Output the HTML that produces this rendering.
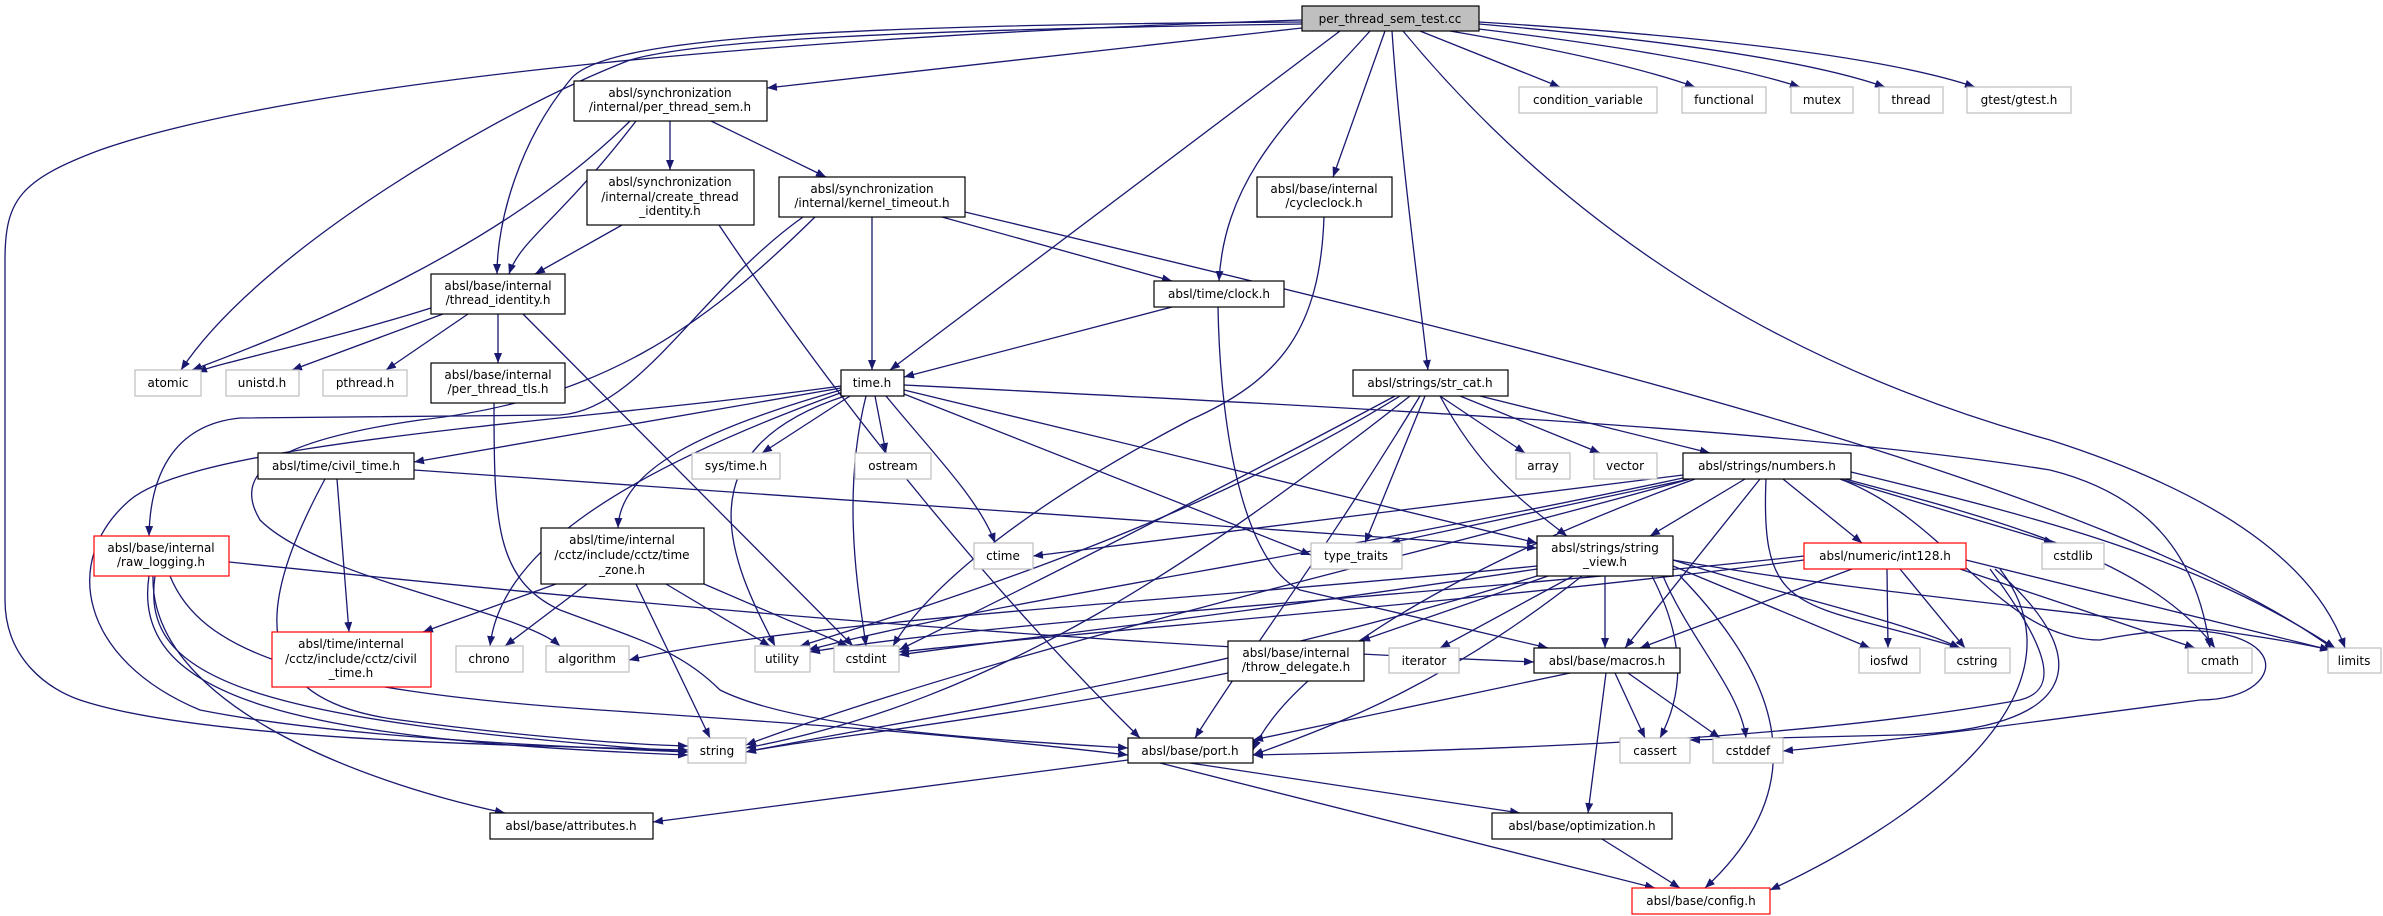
<!DOCTYPE html>
<html><head><meta charset="utf-8"><style>
html,body{margin:0;padding:0;background:#fff;width:2383px;height:916px;overflow:hidden}
svg{display:block}
text{font-family:"DejaVu Sans","Liberation Sans",sans-serif;font-size:12px;fill:#000;text-anchor:middle}
.e{fill:none;stroke:#191970;stroke-width:1.3;marker-end:url(#a)}
.n{fill:#fff;stroke:#000;stroke-width:1.2}
.g{fill:#fff;stroke:#bfbfbf;stroke-width:1.2}
.r{fill:#fff;stroke:#ff0000;stroke-width:1.2}
</style></head><body>
<svg width="2383" height="916" viewBox="0 0 2383 916" xmlns="http://www.w3.org/2000/svg">
<defs><marker id="a" markerUnits="userSpaceOnUse" markerWidth="11" markerHeight="8" refX="10" refY="4" orient="auto"><path d="M0,0 L10,4 L0,8 z" fill="#191970"/></marker></defs>
<g>
<path class="e" d="M1302,28 L767,88"/>
<path class="e" d="M1302,22 C800,25 600,40 570,80 C520,140 497,220 497,274"/>
<path class="e" d="M1302,24 C900,30 700,40 630,60 C500,110 260,250 181,370"/>
<path class="e" d="M1302,20 C800,35 300,80 100,150 C20,180 5,200 5,260 L5,600 C5,660 50,690 80,700 C200,740 500,745 688,750"/>
<path class="e" d="M1340,31 L890,370"/>
<path class="e" d="M1370,31 C1300,110 1225,170 1219,281"/>
<path class="e" d="M1385,31 L1333,177"/>
<path class="e" d="M1392,31 C1400,150 1420,300 1428,370"/>
<path class="e" d="M1403,31 Q1650,330 2050,440 Q2300,520 2345,648"/>
<path class="e" d="M1420,31 L1560,87"/>
<path class="e" d="M1450,31 Q1620,60 1695,87"/>
<path class="e" d="M1470,28 Q1700,55 1800,87"/>
<path class="e" d="M1479,24 Q1780,50 1885,87"/>
<path class="e" d="M1479,22 Q1850,45 1975,87"/>
<path class="e" d="M630,121 C500,250 300,330 192,370"/>
<path class="e" d="M636,121 C560,220 520,240 509,274"/>
<path class="e" d="M670,121 L670,170"/>
<path class="e" d="M711,121 L826,177"/>
<path class="e" d="M622,225 L535,274"/>
<path class="e" d="M719,225 C850,420 1000,600 1140,738"/>
<path class="e" d="M872,217 L872,370"/>
<path class="e" d="M942,217 L1172,281"/>
<path class="e" d="M965,212 C1500,340 2100,480 2335,650"/>
<path class="e" d="M803,217 C700,290 640,410 560,415 L240,418 C170,425 150,480 149,536"/>
<path class="e" d="M815,217 C700,330 600,400 420,420 C280,440 230,470 260,520 C320,580 520,610 560,646"/>
<path class="e" d="M431,308 C330,340 230,360 197,372"/>
<path class="e" d="M443,314 L292,370"/>
<path class="e" d="M468,314 L386,370"/>
<path class="e" d="M498,314 L498,363"/>
<path class="e" d="M523,314 L853,646"/>
<path class="e" d="M494,403 C494,520 495,580 560,610 C640,640 680,650 720,690 C800,730 1000,740 1128,748"/>
<path class="e" d="M1324,217 C1320,330 1280,380 1190,420 C1000,520 920,600 893,646"/>
<path class="e" d="M1172,307 L904,377"/>
<path class="e" d="M1218,307 C1220,420 1240,560 1300,590 L1548,648"/>
<path class="e" d="M841,388 L414,462"/>
<path class="e" d="M850,396 L762,453"/>
<path class="e" d="M875,396 L886,453"/>
<path class="e" d="M886,396 C930,450 980,500 995,543"/>
<path class="e" d="M841,390 C700,430 620,470 618,528"/>
<path class="e" d="M843,392 C600,480 500,560 490,646"/>
<path class="e" d="M845,396 C680,450 730,560 775,646"/>
<path class="e" d="M866,396 C840,500 860,600 866,646"/>
<path class="e" d="M841,386 C600,420 200,440 130,500 C60,560 80,660 200,710 C350,740 600,748 688,752"/>
<path class="e" d="M904,394 L1311,555"/>
<path class="e" d="M904,390 L1537,543"/>
<path class="e" d="M904,385 C1400,410 1800,430 2050,470 C2170,500 2200,580 2210,648"/>
<path class="e" d="M337,479 L349,632"/>
<path class="e" d="M325,479 C260,600 240,700 400,720 C550,740 650,745 688,746"/>
<path class="e" d="M414,470 L1537,548"/>
<path class="e" d="M556,584 L423,632"/>
<path class="e" d="M587,584 L505,646"/>
<path class="e" d="M636,584 L710,738"/>
<path class="e" d="M666,584 L770,646"/>
<path class="e" d="M704,584 L848,646"/>
<path class="e" d="M229,562 C600,600 1000,640 1534,662"/>
<path class="e" d="M155,576 C140,680 250,720 688,752"/>
<path class="e" d="M149,576 C130,700 300,740 688,755"/>
<path class="e" d="M170,576 C200,650 300,690 600,710 C900,730 1000,740 1128,755"/>
<path class="e" d="M153,576 C150,700 350,780 505,813"/>
<path class="e" d="M1440,396 L1525,453"/>
<path class="e" d="M1460,396 L1600,453"/>
<path class="e" d="M1480,396 L1710,453"/>
<path class="e" d="M1440,396 C1480,470 1520,500 1567,536"/>
<path class="e" d="M1425,396 L1365,543"/>
<path class="e" d="M1395,396 C1200,500 1000,600 899,650"/>
<path class="e" d="M1410,396 C1200,560 1000,700 746,748"/>
<path class="e" d="M1420,396 C1320,560 1250,650 1195,738"/>
<path class="e" d="M1400,396 C1200,520 950,600 800,646"/>
<path class="e" d="M1745,479 L1650,536"/>
<path class="e" d="M1690,479 L1390,543"/>
<path class="e" d="M1683,475 L1033,556"/>
<path class="e" d="M1760,479 L1625,648"/>
<path class="e" d="M1783,479 L1862,543"/>
<path class="e" d="M1840,479 L2054,543"/>
<path class="e" d="M1851,472 C2050,520 2200,560 2335,648"/>
<path class="e" d="M1845,479 C2000,520 2150,560 2215,648"/>
<path class="e" d="M1766,479 C1760,620 1800,600 1960,648"/>
<path class="e" d="M1840,479 C1950,520 2000,640 2100,640 C2300,600 2300,700 2200,700 C2050,720 1900,740 1783,751"/>
<path class="e" d="M1690,479 C1400,560 1000,650 746,745"/>
<path class="e" d="M1695,479 C1500,550 1300,650 1253,750"/>
<path class="e" d="M1683,478 C1300,560 1000,600 808,650"/>
<path class="e" d="M1605,576 L1605,648"/>
<path class="e" d="M1573,576 L1440,648"/>
<path class="e" d="M1548,576 L1360,641"/>
<path class="e" d="M1537,566 C1200,600 800,620 629,660"/>
<path class="e" d="M1537,569 C1200,620 1000,640 899,655"/>
<path class="e" d="M1537,576 C1200,680 900,720 746,752"/>
<path class="e" d="M1582,576 C1450,680 1350,720 1253,755"/>
<path class="e" d="M1652,576 C1690,650 1680,700 1660,738"/>
<path class="e" d="M1663,576 C1690,640 1740,690 1746,738"/>
<path class="e" d="M1673,566 L1870,648"/>
<path class="e" d="M1673,560 C1800,600 1900,620 1960,648"/>
<path class="e" d="M1673,560 C1900,600 2200,620 2330,650"/>
<path class="e" d="M1680,576 C1800,700 1800,800 1705,888"/>
<path class="e" d="M1852,569 L1640,648"/>
<path class="e" d="M1887,569 L1888,648"/>
<path class="e" d="M1900,569 L1965,648"/>
<path class="e" d="M1960,569 L2195,648"/>
<path class="e" d="M1966,560 L2330,650"/>
<path class="e" d="M1990,569 C2050,650 2060,690 2020,700 C1800,740 1500,750 1253,755"/>
<path class="e" d="M1995,569 C2100,660 2080,730 1900,735 L1690,740"/>
<path class="e" d="M2000,569 C2100,700 1900,830 1770,890"/>
<path class="e" d="M1804,560 C1500,600 1100,630 899,652"/>
<path class="e" d="M1804,556 C1500,590 1000,620 810,652"/>
<path class="e" d="M1228,673 C1000,720 800,740 746,752"/>
<path class="e" d="M1570,673 L1253,740"/>
<path class="e" d="M1615,673 L1645,738"/>
<path class="e" d="M1628,673 L1720,738"/>
<path class="e" d="M1606,673 L1588,813"/>
<path class="e" d="M1128,760 L653,822"/>
<path class="e" d="M1190,763 L1520,813"/>
<path class="e" d="M1160,763 L1655,888"/>
<path class="e" d="M1602,839 L1680,888"/>
</g>
<g>
<rect x="1302" y="6" width="177" height="25" fill="#bfbfbf" stroke="#000" stroke-width="1.2"/><text x="1390" y="23">per_thread_sem_test.cc</text>
<rect class="n" x="574" y="81" width="193" height="40"/><text x="670" y="97">absl/synchronization</text><text x="670" y="111">/internal/per_thread_sem.h</text>
<rect class="g" x="1519" y="87" width="138" height="26"/><text x="1588" y="104">condition_variable</text>
<rect class="g" x="1682" y="87" width="84" height="26"/><text x="1724" y="104">functional</text>
<rect class="g" x="1791" y="87" width="62" height="26"/><text x="1822" y="104">mutex</text>
<rect class="g" x="1879" y="87" width="64" height="26"/><text x="1911" y="104">thread</text>
<rect class="g" x="1967" y="87" width="104" height="26"/><text x="2019" y="104">gtest/gtest.h</text>
<rect class="n" x="587" y="170" width="167" height="55"/><text x="670" y="186">absl/synchronization</text><text x="670" y="201">/internal/create_thread</text><text x="670" y="215">_identity.h</text>
<rect class="n" x="779" y="177" width="186" height="40"/><text x="872" y="193">absl/synchronization</text><text x="872" y="207">/internal/kernel_timeout.h</text>
<rect class="n" x="1257" y="177" width="135" height="40"/><text x="1324" y="193">absl/base/internal</text><text x="1324" y="207">/cycleclock.h</text>
<rect class="n" x="431" y="274" width="134" height="40"/><text x="498" y="290">absl/base/internal</text><text x="498" y="304">/thread_identity.h</text>
<rect class="n" x="1154" y="281" width="130" height="26"/><text x="1219" y="298">absl/time/clock.h</text>
<rect class="g" x="135" y="370" width="66" height="26"/><text x="168" y="387">atomic</text>
<rect class="g" x="226" y="370" width="73" height="26"/><text x="262" y="387">unistd.h</text>
<rect class="g" x="323" y="370" width="84" height="26"/><text x="365" y="387">pthread.h</text>
<rect class="n" x="431" y="363" width="134" height="40"/><text x="498" y="379">absl/base/internal</text><text x="498" y="393">/per_thread_tls.h</text>
<rect class="n" x="841" y="370" width="63" height="26"/><text x="872" y="387">time.h</text>
<rect class="n" x="1353" y="370" width="155" height="26"/><text x="1430" y="387">absl/strings/str_cat.h</text>
<rect class="n" x="258" y="453" width="156" height="26"/><text x="336" y="470">absl/time/civil_time.h</text>
<rect class="g" x="692" y="453" width="88" height="26"/><text x="736" y="470">sys/time.h</text>
<rect class="g" x="855" y="453" width="76" height="26"/><text x="893" y="470">ostream</text>
<rect class="g" x="1516" y="453" width="54" height="26"/><text x="1543" y="470">array</text>
<rect class="g" x="1594" y="453" width="63" height="26"/><text x="1625" y="470">vector</text>
<rect class="n" x="1683" y="453" width="168" height="26"/><text x="1767" y="470">absl/strings/numbers.h</text>
<rect class="n" x="541" y="528" width="163" height="56"/><text x="622" y="544">absl/time/internal</text><text x="622" y="559">/cctz/include/cctz/time</text><text x="622" y="574">_zone.h</text>
<rect class="r" x="94" y="536" width="135" height="40"/><text x="161" y="552">absl/base/internal</text><text x="161" y="566">/raw_logging.h</text>
<rect class="g" x="974" y="543" width="59" height="26"/><text x="1003" y="560">ctime</text>
<rect class="g" x="1311" y="543" width="91" height="26"/><text x="1356" y="560">type_traits</text>
<rect class="n" x="1537" y="536" width="136" height="40"/><text x="1605" y="552">absl/strings/string</text><text x="1605" y="566">_view.h</text>
<rect class="r" x="1804" y="543" width="162" height="26"/><text x="1885" y="560">absl/numeric/int128.h</text>
<rect class="g" x="2042" y="543" width="62" height="26"/><text x="2073" y="560">cstdlib</text>
<rect class="r" x="272" y="632" width="159" height="55"/><text x="351" y="648">absl/time/internal</text><text x="351" y="663">/cctz/include/cctz/civil</text><text x="351" y="677">_time.h</text>
<rect class="g" x="456" y="646" width="67" height="26"/><text x="489" y="663">chrono</text>
<rect class="g" x="546" y="646" width="83" height="26"/><text x="587" y="663">algorithm</text>
<rect class="g" x="755" y="646" width="55" height="26"/><text x="782" y="663">utility</text>
<rect class="g" x="834" y="646" width="65" height="26"/><text x="866" y="663">cstdint</text>
<rect class="n" x="1228" y="641" width="136" height="40"/><text x="1296" y="657">absl/base/internal</text><text x="1296" y="671">/throw_delegate.h</text>
<rect class="g" x="1389" y="648" width="70" height="25"/><text x="1424" y="665">iterator</text>
<rect class="n" x="1534" y="648" width="146" height="25"/><text x="1607" y="665">absl/base/macros.h</text>
<rect class="g" x="1859" y="648" width="61" height="25"/><text x="1889" y="665">iosfwd</text>
<rect class="g" x="1945" y="648" width="65" height="25"/><text x="1977" y="665">cstring</text>
<rect class="g" x="2188" y="648" width="64" height="25"/><text x="2220" y="665">cmath</text>
<rect class="g" x="2328" y="648" width="53" height="25"/><text x="2354" y="665">limits</text>
<rect class="g" x="688" y="738" width="58" height="25"/><text x="717" y="755">string</text>
<rect class="n" x="1128" y="738" width="125" height="25"/><text x="1190" y="755">absl/base/port.h</text>
<rect class="g" x="1620" y="738" width="70" height="25"/><text x="1655" y="755">cassert</text>
<rect class="g" x="1713" y="738" width="70" height="25"/><text x="1748" y="755">cstddef</text>
<rect class="n" x="490" y="813" width="163" height="26"/><text x="571" y="830">absl/base/attributes.h</text>
<rect class="n" x="1492" y="813" width="180" height="26"/><text x="1582" y="830">absl/base/optimization.h</text>
<rect class="r" x="1632" y="888" width="138" height="26"/><text x="1701" y="905">absl/base/config.h</text>
</g>
</svg>
</body></html>
